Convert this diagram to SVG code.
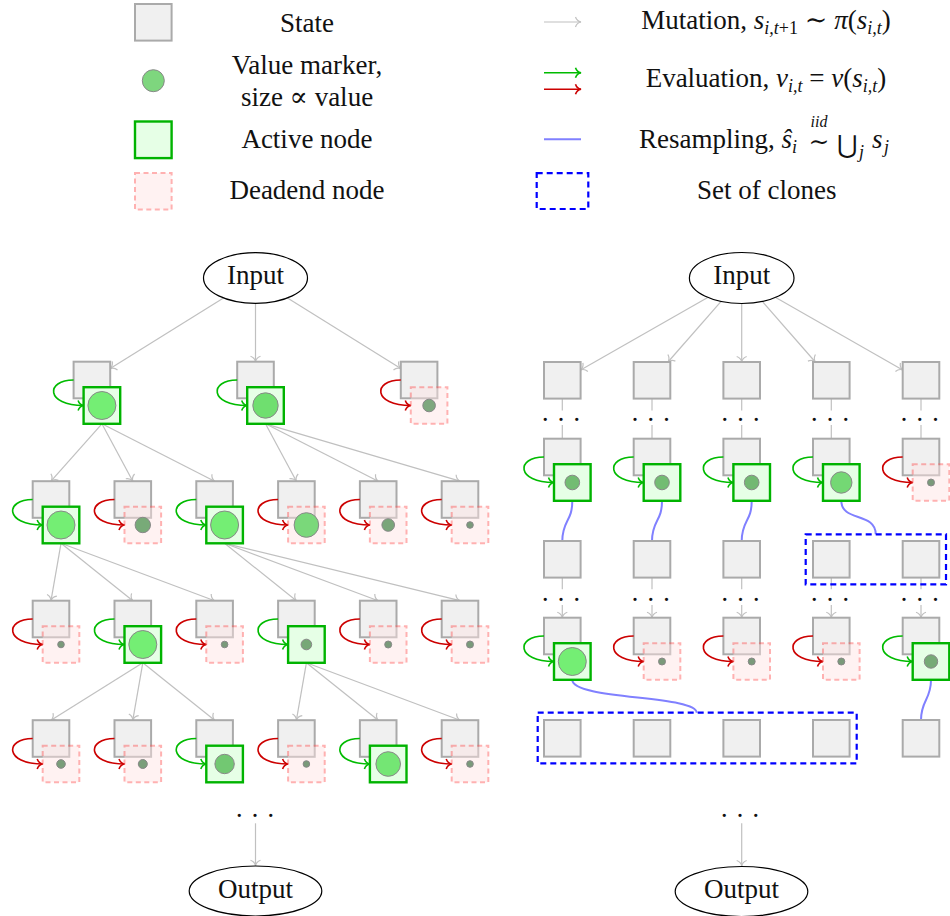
<svg xmlns="http://www.w3.org/2000/svg" width="950" height="916" viewBox="0 0 950 916">
<defs>
<style>
text{font-family:"Liberation Serif","DejaVu Serif",serif;font-size:27px;fill:#111}
.it{font-style:italic}
.sb{font-size:18px;font-style:italic}
.su{font-size:18px}
.st{fill:#f0f0f0;stroke:#aaaaaa;stroke-width:2}
.ac{fill:#e6ffe6;stroke:#00b300;stroke-width:2.4}
.de{fill:#ffe4e4;stroke:#ff5555;stroke-width:2;stroke-dasharray:5 3.5;opacity:.45}
.mut{stroke:#c0c0c0;stroke-width:1.2;fill:none;marker-end:url(#mg)}
.eg{stroke:#00bb00;stroke-width:1.6;fill:none;marker-end:url(#mgr)}
.er{stroke:#cc0000;stroke-width:1.6;fill:none;marker-end:url(#mr)}
.rs{stroke:#8080ff;stroke-width:2;fill:none}
.cl{fill:none;stroke:#0000ff;stroke-width:2.2;stroke-dasharray:6 4}
.v{stroke:#888888;stroke-width:1}
.io{fill:#ffffff;stroke:#000000;stroke-width:1.2}
</style>
<marker id="mg" viewBox="-7 -7 9 14" markerWidth="9" markerHeight="14" refX="0" refY="0" orient="auto" markerUnits="userSpaceOnUse"><path d="M-5.5,-5 C-4.5,-2 -2,-0.4 0,0 C-2,0.4 -4.5,2 -5.5,5" fill="none" stroke="#c0c0c0" stroke-width="1.2"/></marker>
<marker id="mgr" viewBox="-7 -7 9 14" markerWidth="9" markerHeight="14" refX="0" refY="0" orient="auto" markerUnits="userSpaceOnUse"><path d="M-5.5,-5 C-4.5,-2 -2,-0.4 0,0 C-2,0.4 -4.5,2 -5.5,5" fill="none" stroke="#00bb00" stroke-width="1.6"/></marker>
<marker id="mr" viewBox="-7 -7 9 14" markerWidth="9" markerHeight="14" refX="0" refY="0" orient="auto" markerUnits="userSpaceOnUse"><path d="M-5.5,-5 C-4.5,-2 -2,-0.4 0,0 C-2,0.4 -4.5,2 -5.5,5" fill="none" stroke="#cc0000" stroke-width="1.6"/></marker>
</defs>

<g id="legend">
<rect class="st" x="135" y="4" width="36.6" height="36.6"/>
<text x="307" y="31.5" text-anchor="middle">State</text>
<circle class="v" cx="153.3" cy="80.7" r="11" fill="#7ed67e"/>
<text x="307" y="74" text-anchor="middle">Value marker,</text>
<text x="307" y="106" text-anchor="middle">size ∝ value</text>
<rect class="ac" x="135" y="121.5" width="36.6" height="36.6"/>
<text x="307" y="148.3" text-anchor="middle">Active node</text>
<rect class="de" x="135" y="173" width="36.6" height="36.6"/>
<text x="307" y="199.3" text-anchor="middle">Deadend node</text>
<path class="mut" d="M544,22 L581,22"/>
<text x="766" y="28.7" text-anchor="middle">Mutation, <tspan class="it">s</tspan><tspan class="sb" dy="5">i,t</tspan><tspan class="su">+1</tspan><tspan dy="-5"> ∼ </tspan><tspan class="it">π</tspan>(<tspan class="it">s</tspan><tspan class="sb" dy="5">i,t</tspan><tspan dy="-5">)</tspan></text>
<path class="eg" d="M544,72.7 L581,72.7"/>
<path class="er" d="M544,89.3 L581,89.3"/>
<text x="766" y="87.3" text-anchor="middle">Evaluation, <tspan class="it">v</tspan><tspan class="sb" dy="5">i,t</tspan><tspan dy="-5"> = </tspan><tspan class="it">v</tspan>(<tspan class="it">s</tspan><tspan class="sb" dy="5">i,t</tspan><tspan dy="-5">)</tspan></text>
<path class="rs" d="M544,139.3 L581,139.3"/>
<text x="639" y="148.3">Resampling, <tspan class="it">ŝ</tspan><tspan class="sb" dy="5">i</tspan></text>
<text x="819" y="150" text-anchor="middle" style="font-size:25px">∼</text>
<text x="819" y="127" text-anchor="middle" class="sb" style="font-size:16px">iid</text>
<text x="837" y="153" style="font-size:25px">⋃</text>
<text x="859" y="158" class="sb">j</text>
<text x="872" y="148.3" class="it">s</text>
<text x="884" y="153.3" class="sb">j</text>
<rect class="cl" x="536.7" y="173.2" width="51.6" height="35.8"/>
<text x="766.7" y="199.3" text-anchor="middle">Set of clones</text>
</g>

<g id="connectors">
<path class="mut" d="M223.5,298 L110.2,368.6"/>
<path class="mut" d="M255.5,303.3 L255.5,361.7"/>
<path class="mut" d="M287.5,298 L400.8,368.6"/>
<path class="mut" d="M101.9,423.8 L51,481.2"/>
<path class="mut" d="M101.9,423.8 L132.8,481.2"/>
<path class="mut" d="M101.9,423.8 L214.6,481.2"/>
<path class="mut" d="M265.5,423.8 L296.4,481.2"/>
<path class="mut" d="M265.5,423.8 L378.2,481.2"/>
<path class="mut" d="M265.5,423.8 L460,481.2"/>
<path class="mut" d="M61,543.3 L51,600.7"/>
<path class="mut" d="M61,543.3 L132.8,600.7"/>
<path class="mut" d="M61,543.3 L214.6,600.7"/>
<path class="mut" d="M224.6,543.3 L296.4,600.7"/>
<path class="mut" d="M224.6,543.3 L378.2,600.7"/>
<path class="mut" d="M224.6,543.3 L460,600.7"/>
<path class="mut" d="M142.8,662.8 L51,720.2"/>
<path class="mut" d="M142.8,662.8 L132.8,720.2"/>
<path class="mut" d="M142.8,662.8 L214.6,720.2"/>
<path class="mut" d="M306.4,662.8 L296.4,720.2"/>
<path class="mut" d="M306.4,662.8 L378.2,720.2"/>
<path class="mut" d="M306.4,662.8 L460,720.2"/>
<path class="mut" d="M255.5,823.3 L255.5,865.8"/>

<path class="mut" d="M707.7,297.4 L580.6,369.9"/>
<path class="mut" d="M721.1,301.4 L668,362"/>
<path class="mut" d="M741.7,303.5 L741.7,362"/>
<path class="mut" d="M762.3,301.4 L815.3,362"/>
<path class="mut" d="M775.7,297.4 L902.7,369.9"/>

<path class="mut" d="M562.3,398.6 L562.3,410.5 M562.3,425 L562.3,438.7 M562.3,577.6 L562.3,589.3 M562.3,605 L562.3,617.7"/>
<path class="mut" d="M652,398.6 L652,410.5 M652,425 L652,438.7 M652,577.6 L652,589.3 M652,605 L652,617.7"/>
<path class="mut" d="M741.7,398.6 L741.7,410.5 M741.7,425 L741.7,438.7 M741.7,577.6 L741.7,589.3 M741.7,605 L741.7,617.7"/>
<path class="mut" d="M831.3,398.6 L831.3,410.5 M831.3,425 L831.3,438.7 M831.3,577.6 L831.3,589.3 M831.3,605 L831.3,617.7"/>
<path class="mut" d="M921,398.6 L921,410.5 M921,425 L921,438.7 M921,577.6 L921,589.3 M921,605 L921,617.7"/>
<path class="mut" d="M741.7,823.3 L741.7,866"/>

<path class="rs" d="M572.3,500.8 C572.3,522 562.3,520 562.3,541"/>
<path class="rs" d="M662,500.8 C662,522 652,520 652,541"/>
<path class="rs" d="M751.7,500.8 C751.7,522 741.7,520 741.7,541"/>
<path class="rs" d="M841.3,500.8 C841.3,522 875.7,512 875.7,534.3"/>
<path class="rs" d="M572.3,679.8 C572.3,700 696.7,695 696.7,712.7"/>
<path class="rs" d="M931,679.8 C931,700 921,700 921,720"/>
</g>

<g id="left-input"><ellipse class="io" cx="255.5" cy="278" rx="52" ry="25.3"/><text x="255.5" y="284" text-anchor="middle">Input</text></g>
<g id="left-output"><ellipse class="io" cx="255.5" cy="891" rx="66.3" ry="25"/><text x="255.5" y="898" text-anchor="middle">Output</text></g>
<g id="left-dots"><text x="255" y="825" text-anchor="middle">· · ·</text></g>

<g id="L1a" transform="translate(91.9,380)"><rect class="st" x="-18.3" y="-18.3" width="36.6" height="36.6"/><path class="eg" d="M-18.3,0 C-46.5,0 -46.5,25.5 -8.3,25.5"/><rect class="ac" x="-8.3" y="7.2" width="36.6" height="36.6"/><circle class="v" cx="10" cy="25.5" r="14" fill="#74ee74"/></g>
<g id="L1b" transform="translate(255.5,380)"><rect class="st" x="-18.3" y="-18.3" width="36.6" height="36.6"/><path class="eg" d="M-18.3,0 C-46.5,0 -46.5,25.5 -8.3,25.5"/><rect class="ac" x="-8.3" y="7.2" width="36.6" height="36.6"/><circle class="v" cx="10" cy="25.5" r="12.7" fill="#6fdf6f"/></g>
<g id="L1c" transform="translate(419.1,380)"><rect class="st" x="-18.3" y="-18.3" width="36.6" height="36.6"/><path class="er" d="M-18.3,0 C-46.5,0 -46.5,25.5 -8.3,25.5"/><rect class="de" x="-8.3" y="7.2" width="36.6" height="36.6"/><circle class="v" cx="10" cy="25.5" r="6.3" fill="#7ea87e"/></g>

<g id="L2a" transform="translate(51,499.5)"><rect class="st" x="-18.3" y="-18.3" width="36.6" height="36.6"/><path class="eg" d="M-18.3,0 C-46.5,0 -46.5,25.5 -8.3,25.5"/><rect class="ac" x="-8.3" y="7.2" width="36.6" height="36.6"/><circle class="v" cx="10" cy="25.5" r="14" fill="#74ee74"/></g>
<g id="L2b" transform="translate(132.8,499.5)"><rect class="st" x="-18.3" y="-18.3" width="36.6" height="36.6"/><path class="er" d="M-18.3,0 C-46.5,0 -46.5,25.5 -8.3,25.5"/><rect class="de" x="-8.3" y="7.2" width="36.6" height="36.6"/><circle class="v" cx="10" cy="25.5" r="7.7" fill="#78aa78"/></g>
<g id="L2c" transform="translate(214.6,499.5)"><rect class="st" x="-18.3" y="-18.3" width="36.6" height="36.6"/><path class="eg" d="M-18.3,0 C-46.5,0 -46.5,25.5 -8.3,25.5"/><rect class="ac" x="-8.3" y="7.2" width="36.6" height="36.6"/><circle class="v" cx="10" cy="25.5" r="14" fill="#74ee74"/></g>
<g id="L2d" transform="translate(296.4,499.5)"><rect class="st" x="-18.3" y="-18.3" width="36.6" height="36.6"/><path class="er" d="M-18.3,0 C-46.5,0 -46.5,25.5 -8.3,25.5"/><rect class="de" x="-8.3" y="7.2" width="36.6" height="36.6"/><circle class="v" cx="10" cy="25.5" r="12.3" fill="#7ad87a"/></g>
<g id="L2e" transform="translate(378.2,499.5)"><rect class="st" x="-18.3" y="-18.3" width="36.6" height="36.6"/><path class="er" d="M-18.3,0 C-46.5,0 -46.5,25.5 -8.3,25.5"/><rect class="de" x="-8.3" y="7.2" width="36.6" height="36.6"/><circle class="v" cx="10" cy="25.5" r="6.3" fill="#7aa67a"/></g>
<g id="L2f" transform="translate(460,499.5)"><rect class="st" x="-18.3" y="-18.3" width="36.6" height="36.6"/><path class="er" d="M-18.3,0 C-46.5,0 -46.5,25.5 -8.3,25.5"/><rect class="de" x="-8.3" y="7.2" width="36.6" height="36.6"/><circle class="v" cx="10" cy="25.5" r="3.3" fill="#7a9a7a"/></g>

<g id="L3a" transform="translate(51,619)"><rect class="st" x="-18.3" y="-18.3" width="36.6" height="36.6"/><path class="er" d="M-18.3,0 C-46.5,0 -46.5,25.5 -8.3,25.5"/><rect class="de" x="-8.3" y="7.2" width="36.6" height="36.6"/><circle class="v" cx="10" cy="25.5" r="3.3" fill="#7a9a7a"/></g>
<g id="L3b" transform="translate(132.8,619)"><rect class="st" x="-18.3" y="-18.3" width="36.6" height="36.6"/><path class="eg" d="M-18.3,0 C-46.5,0 -46.5,25.5 -8.3,25.5"/><rect class="ac" x="-8.3" y="7.2" width="36.6" height="36.6"/><circle class="v" cx="10" cy="25.5" r="14" fill="#74ee74"/></g>
<g id="L3c" transform="translate(214.6,619)"><rect class="st" x="-18.3" y="-18.3" width="36.6" height="36.6"/><path class="er" d="M-18.3,0 C-46.5,0 -46.5,25.5 -8.3,25.5"/><rect class="de" x="-8.3" y="7.2" width="36.6" height="36.6"/><circle class="v" cx="10" cy="25.5" r="3.3" fill="#7a9a7a"/></g>
<g id="L3d" transform="translate(296.4,619)"><rect class="st" x="-18.3" y="-18.3" width="36.6" height="36.6"/><path class="eg" d="M-18.3,0 C-46.5,0 -46.5,25.5 -8.3,25.5"/><rect class="ac" x="-8.3" y="7.2" width="36.6" height="36.6"/><circle class="v" cx="10" cy="25.5" r="5.3" fill="#77a877"/></g>
<g id="L3e" transform="translate(378.2,619)"><rect class="st" x="-18.3" y="-18.3" width="36.6" height="36.6"/><path class="er" d="M-18.3,0 C-46.5,0 -46.5,25.5 -8.3,25.5"/><rect class="de" x="-8.3" y="7.2" width="36.6" height="36.6"/><circle class="v" cx="10" cy="25.5" r="3.5" fill="#7a9a7a"/></g>
<g id="L3f" transform="translate(460,619)"><rect class="st" x="-18.3" y="-18.3" width="36.6" height="36.6"/><path class="er" d="M-18.3,0 C-46.5,0 -46.5,25.5 -8.3,25.5"/><rect class="de" x="-8.3" y="7.2" width="36.6" height="36.6"/><circle class="v" cx="10" cy="25.5" r="3.5" fill="#7a9a7a"/></g>

<g id="L4a" transform="translate(51,738.5)"><rect class="st" x="-18.3" y="-18.3" width="36.6" height="36.6"/><path class="er" d="M-18.3,0 C-46.5,0 -46.5,25.5 -8.3,25.5"/><rect class="de" x="-8.3" y="7.2" width="36.6" height="36.6"/><circle class="v" cx="10" cy="25.5" r="4.3" fill="#7a9e7a"/></g>
<g id="L4b" transform="translate(132.8,738.5)"><rect class="st" x="-18.3" y="-18.3" width="36.6" height="36.6"/><path class="er" d="M-18.3,0 C-46.5,0 -46.5,25.5 -8.3,25.5"/><rect class="de" x="-8.3" y="7.2" width="36.6" height="36.6"/><circle class="v" cx="10" cy="25.5" r="4.5" fill="#7a9e7a"/></g>
<g id="L4c" transform="translate(214.6,738.5)"><rect class="st" x="-18.3" y="-18.3" width="36.6" height="36.6"/><path class="eg" d="M-18.3,0 C-46.5,0 -46.5,25.5 -8.3,25.5"/><rect class="ac" x="-8.3" y="7.2" width="36.6" height="36.6"/><circle class="v" cx="10" cy="25.5" r="9.7" fill="#72c872"/></g>
<g id="L4d" transform="translate(296.4,738.5)"><rect class="st" x="-18.3" y="-18.3" width="36.6" height="36.6"/><path class="er" d="M-18.3,0 C-46.5,0 -46.5,25.5 -8.3,25.5"/><rect class="de" x="-8.3" y="7.2" width="36.6" height="36.6"/><circle class="v" cx="10" cy="25.5" r="3.3" fill="#7a9a7a"/></g>
<g id="L4e" transform="translate(378.2,738.5)"><rect class="st" x="-18.3" y="-18.3" width="36.6" height="36.6"/><path class="eg" d="M-18.3,0 C-46.5,0 -46.5,25.5 -8.3,25.5"/><rect class="ac" x="-8.3" y="7.2" width="36.6" height="36.6"/><circle class="v" cx="10" cy="25.5" r="12.3" fill="#74e674"/></g>
<g id="L4f" transform="translate(460,738.5)"><rect class="st" x="-18.3" y="-18.3" width="36.6" height="36.6"/><path class="er" d="M-18.3,0 C-46.5,0 -46.5,25.5 -8.3,25.5"/><rect class="de" x="-8.3" y="7.2" width="36.6" height="36.6"/><circle class="v" cx="10" cy="25.5" r="3.3" fill="#7a9a7a"/></g>

<g id="right-input"><ellipse class="io" cx="741.7" cy="278" rx="52.3" ry="25.5"/><text x="741.7" y="284" text-anchor="middle">Input</text></g>
<g id="right-output"><ellipse class="io" cx="741.5" cy="891.5" rx="66.3" ry="25"/><text x="741.5" y="898" text-anchor="middle">Output</text></g>
<g id="right-dots">
<text x="561" y="429.3" text-anchor="middle">· · ·</text>
<text x="650.7" y="429.3" text-anchor="middle">· · ·</text>
<text x="740.4" y="429.3" text-anchor="middle">· · ·</text>
<text x="830" y="429.3" text-anchor="middle">· · ·</text>
<text x="919.7" y="429.3" text-anchor="middle">· · ·</text>
<text x="561" y="608.7" text-anchor="middle">· · ·</text>
<text x="650.7" y="608.7" text-anchor="middle">· · ·</text>
<text x="740.4" y="608.7" text-anchor="middle">· · ·</text>
<text x="830" y="608.7" text-anchor="middle">· · ·</text>
<text x="919.7" y="608.7" text-anchor="middle">· · ·</text>
<text x="740" y="825" text-anchor="middle">· · ·</text>
</g>

<g id="RA1" transform="translate(562.3,380.3)"><rect class="st" x="-18.3" y="-18.3" width="36.6" height="36.6"/></g>
<g id="RA2" transform="translate(652,380.3)"><rect class="st" x="-18.3" y="-18.3" width="36.6" height="36.6"/></g>
<g id="RA3" transform="translate(741.7,380.3)"><rect class="st" x="-18.3" y="-18.3" width="36.6" height="36.6"/></g>
<g id="RA4" transform="translate(831.3,380.3)"><rect class="st" x="-18.3" y="-18.3" width="36.6" height="36.6"/></g>
<g id="RA5" transform="translate(921,380.3)"><rect class="st" x="-18.3" y="-18.3" width="36.6" height="36.6"/></g>

<g id="RB1" transform="translate(562.3,457)"><rect class="st" x="-18.3" y="-18.3" width="36.6" height="36.6"/><path class="eg" d="M-18.3,0 C-46.5,0 -46.5,25.5 -8.3,25.5"/><rect class="ac" x="-8.3" y="7.2" width="36.6" height="36.6"/><circle class="v" cx="10" cy="25.5" r="7.3" fill="#72bc72"/></g>
<g id="RB2" transform="translate(652,457)"><rect class="st" x="-18.3" y="-18.3" width="36.6" height="36.6"/><path class="eg" d="M-18.3,0 C-46.5,0 -46.5,25.5 -8.3,25.5"/><rect class="ac" x="-8.3" y="7.2" width="36.6" height="36.6"/><circle class="v" cx="10" cy="25.5" r="7.3" fill="#72bc72"/></g>
<g id="RB3" transform="translate(741.7,457)"><rect class="st" x="-18.3" y="-18.3" width="36.6" height="36.6"/><path class="eg" d="M-18.3,0 C-46.5,0 -46.5,25.5 -8.3,25.5"/><rect class="ac" x="-8.3" y="7.2" width="36.6" height="36.6"/><circle class="v" cx="10" cy="25.5" r="7.3" fill="#72b872"/></g>
<g id="RB4" transform="translate(831.3,457)"><rect class="st" x="-18.3" y="-18.3" width="36.6" height="36.6"/><path class="eg" d="M-18.3,0 C-46.5,0 -46.5,25.5 -8.3,25.5"/><rect class="ac" x="-8.3" y="7.2" width="36.6" height="36.6"/><circle class="v" cx="10" cy="25.5" r="10.7" fill="#74d874"/></g>
<g id="RB5" transform="translate(921,457)"><rect class="st" x="-18.3" y="-18.3" width="36.6" height="36.6"/><path class="er" d="M-18.3,0 C-46.5,0 -46.5,25.5 -8.3,25.5"/><rect class="de" x="-8.3" y="7.2" width="36.6" height="36.6"/><circle class="v" cx="10" cy="25.5" r="3.5" fill="#7a9a7a"/></g>

<g id="RC1" transform="translate(562.3,559.3)"><rect class="st" x="-18.3" y="-18.3" width="36.6" height="36.6"/></g>
<g id="RC2" transform="translate(652,559.3)"><rect class="st" x="-18.3" y="-18.3" width="36.6" height="36.6"/></g>
<g id="RC3" transform="translate(741.7,559.3)"><rect class="st" x="-18.3" y="-18.3" width="36.6" height="36.6"/></g>
<g id="RC4" transform="translate(831.3,559.3)"><rect class="st" x="-18.3" y="-18.3" width="36.6" height="36.6"/></g>
<g id="RC5" transform="translate(921,559.3)"><rect class="st" x="-18.3" y="-18.3" width="36.6" height="36.6"/></g>

<g id="RD1" transform="translate(562.3,636)"><rect class="st" x="-18.3" y="-18.3" width="36.6" height="36.6"/><path class="eg" d="M-18.3,0 C-46.5,0 -46.5,25.5 -8.3,25.5"/><rect class="ac" x="-8.3" y="7.2" width="36.6" height="36.6"/><circle class="v" cx="10" cy="25.5" r="14" fill="#74ee74"/></g>
<g id="RD2" transform="translate(652,636)"><rect class="st" x="-18.3" y="-18.3" width="36.6" height="36.6"/><path class="er" d="M-18.3,0 C-46.5,0 -46.5,25.5 -8.3,25.5"/><rect class="de" x="-8.3" y="7.2" width="36.6" height="36.6"/><circle class="v" cx="10" cy="25.5" r="3.5" fill="#7a9a7a"/></g>
<g id="RD3" transform="translate(741.7,636)"><rect class="st" x="-18.3" y="-18.3" width="36.6" height="36.6"/><path class="er" d="M-18.3,0 C-46.5,0 -46.5,25.5 -8.3,25.5"/><rect class="de" x="-8.3" y="7.2" width="36.6" height="36.6"/><circle class="v" cx="10" cy="25.5" r="3.5" fill="#7a9a7a"/></g>
<g id="RD4" transform="translate(831.3,636)"><rect class="st" x="-18.3" y="-18.3" width="36.6" height="36.6"/><path class="er" d="M-18.3,0 C-46.5,0 -46.5,25.5 -8.3,25.5"/><rect class="de" x="-8.3" y="7.2" width="36.6" height="36.6"/><circle class="v" cx="10" cy="25.5" r="3.5" fill="#7a9a7a"/></g>
<g id="RD5" transform="translate(921,636)"><rect class="st" x="-18.3" y="-18.3" width="36.6" height="36.6"/><path class="eg" d="M-18.3,0 C-46.5,0 -46.5,25.5 -8.3,25.5"/><rect class="ac" x="-8.3" y="7.2" width="36.6" height="36.6"/><circle class="v" cx="10" cy="25.5" r="6.7" fill="#76aa76"/></g>

<g id="RE1" transform="translate(562.3,738.3)"><rect class="st" x="-18.3" y="-18.3" width="36.6" height="36.6"/></g>
<g id="RE2" transform="translate(652,738.3)"><rect class="st" x="-18.3" y="-18.3" width="36.6" height="36.6"/></g>
<g id="RE3" transform="translate(741.7,738.3)"><rect class="st" x="-18.3" y="-18.3" width="36.6" height="36.6"/></g>
<g id="RE4" transform="translate(831.3,738.3)"><rect class="st" x="-18.3" y="-18.3" width="36.6" height="36.6"/></g>
<g id="RE5" transform="translate(921,738.3)"><rect class="st" x="-18.3" y="-18.3" width="36.6" height="36.6"/></g>

<g id="clones1"><rect class="cl" x="805.7" y="534.3" width="140.3" height="50"/></g>
<g id="clones2"><rect class="cl" x="537.7" y="712.7" width="319" height="50.6"/></g>
</svg>
